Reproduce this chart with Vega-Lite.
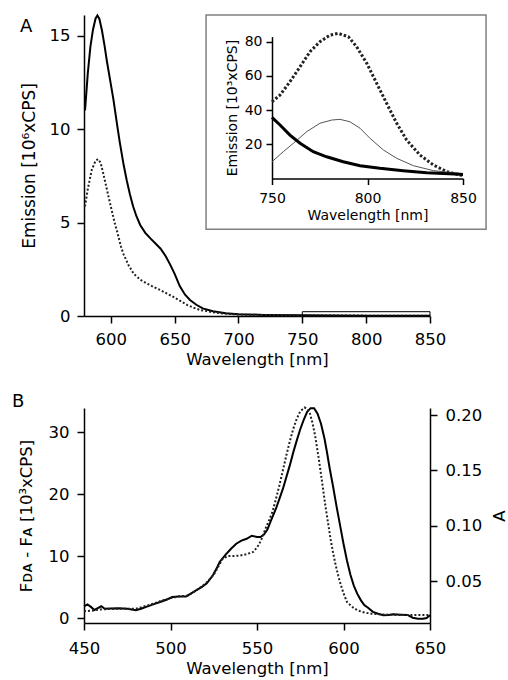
{
  "$schema": "https://vega.github.io/schema/vega-lite/v6.json",
  "background": "white",
  "padding": {"left": 12, "top": 11, "right": 2, "bottom": 0},
  "bounds": "flush",
  "spacing": 92,
  "config": {
    "font": "DejaVu Sans",
    "view": {"stroke": null},
    "axis": {
      "domainColor": "black", "domainWidth": 1.5, "tickColor": "black", "tickWidth": 1.5, "tickSize": 7,
      "labelColor": "black", "titleColor": "black", "labelFontSize": 16.5, "titleFontSize": 16.5,
      "titleFontWeight": "normal", "grid": false, "labelFlush": false, "labelOverlap": false
    },
    "title": {"fontSize": 18, "fontWeight": "normal", "anchor": "start", "frame": "group", "color": "black"}
  },
  "datasets": {
    "sA": [
      {"wl": 579.8, "v": 11.0}, {"wl": 582, "v": 13.0}, {"wl": 584, "v": 14.4}, {"wl": 586, "v": 15.3},
      {"wl": 588, "v": 15.9}, {"wl": 589.5, "v": 16.07}, {"wl": 591, "v": 15.9}, {"wl": 593, "v": 15.3},
      {"wl": 595, "v": 14.5}, {"wl": 597, "v": 13.6}, {"wl": 600, "v": 12.4}, {"wl": 602, "v": 11.6},
      {"wl": 605, "v": 10.2}, {"wl": 607, "v": 9.3}, {"wl": 610, "v": 8.1}, {"wl": 612.5, "v": 7.25},
      {"wl": 615, "v": 6.5}, {"wl": 617.5, "v": 5.86}, {"wl": 620, "v": 5.35}, {"wl": 623, "v": 4.87},
      {"wl": 627, "v": 4.45}, {"wl": 631, "v": 4.15}, {"wl": 635, "v": 3.88}, {"wl": 639, "v": 3.6},
      {"wl": 643, "v": 3.2}, {"wl": 646.5, "v": 2.75}, {"wl": 650, "v": 2.25}, {"wl": 654, "v": 1.6},
      {"wl": 658, "v": 1.15}, {"wl": 662, "v": 0.86}, {"wl": 667, "v": 0.6}, {"wl": 672, "v": 0.41},
      {"wl": 680, "v": 0.25}, {"wl": 690, "v": 0.15}, {"wl": 700, "v": 0.1}, {"wl": 720, "v": 0.06},
      {"wl": 750, "v": 0.04}, {"wl": 800, "v": 0.02}, {"wl": 850, "v": 0.01}
    ],
    "dA": [
      {"wl": 579.8, "v": 5.86}, {"wl": 582, "v": 6.8}, {"wl": 585, "v": 7.8}, {"wl": 588, "v": 8.3},
      {"wl": 590, "v": 8.39}, {"wl": 592, "v": 8.2}, {"wl": 594, "v": 7.65}, {"wl": 597, "v": 6.75},
      {"wl": 600, "v": 5.85}, {"wl": 603, "v": 5.0}, {"wl": 605, "v": 4.5}, {"wl": 608, "v": 3.7},
      {"wl": 610, "v": 3.3}, {"wl": 614, "v": 2.7}, {"wl": 618, "v": 2.25}, {"wl": 623, "v": 1.95},
      {"wl": 628, "v": 1.75}, {"wl": 633, "v": 1.57}, {"wl": 639, "v": 1.38}, {"wl": 644, "v": 1.2},
      {"wl": 649, "v": 1.02}, {"wl": 654, "v": 0.82}, {"wl": 660, "v": 0.58}, {"wl": 665, "v": 0.44},
      {"wl": 670, "v": 0.32}, {"wl": 680, "v": 0.2}, {"wl": 690, "v": 0.12}, {"wl": 700, "v": 0.08},
      {"wl": 720, "v": 0.05}, {"wl": 750, "v": 0.03}, {"wl": 800, "v": 0.02}, {"wl": 850, "v": 0.01}
    ],
    "iDot": [
      {"wl": 750, "v": 44.9}, {"wl": 754.2, "v": 48.8}, {"wl": 759.4, "v": 56.6}, {"wl": 764.7, "v": 65.4},
      {"wl": 769.9, "v": 74.2}, {"wl": 775.1, "v": 80.0}, {"wl": 780.4, "v": 83.9}, {"wl": 784.7, "v": 84.9},
      {"wl": 790, "v": 82.9}, {"wl": 794.3, "v": 77.1}, {"wl": 799.6, "v": 67.4}, {"wl": 804.8, "v": 55.7},
      {"wl": 810, "v": 44.0}, {"wl": 815.3, "v": 32.3}, {"wl": 820.5, "v": 22.5}, {"wl": 827.5, "v": 13.7},
      {"wl": 834.5, "v": 7.9}, {"wl": 841.5, "v": 4.0}, {"wl": 848.4, "v": 2.0}, {"wl": 850, "v": 1.8}
    ],
    "iThin": [
      {"wl": 750, "v": 9.8}, {"wl": 755.9, "v": 15.7}, {"wl": 761.2, "v": 20.6}, {"wl": 768.2, "v": 27.4},
      {"wl": 775.1, "v": 32.3}, {"wl": 781.3, "v": 34.2}, {"wl": 785.6, "v": 34.6}, {"wl": 790.8, "v": 33.2},
      {"wl": 796.1, "v": 29.4}, {"wl": 801.3, "v": 23.5}, {"wl": 808.3, "v": 16.7}, {"wl": 815.3, "v": 11.8},
      {"wl": 824, "v": 7.5}, {"wl": 834.5, "v": 4.6}, {"wl": 848.4, "v": 3.0}, {"wl": 850, "v": 2.9}
    ],
    "iThick": [
      {"wl": 750, "v": 35.8}, {"wl": 754.2, "v": 31.3}, {"wl": 759.4, "v": 25.4}, {"wl": 764.7, "v": 20.6},
      {"wl": 771.6, "v": 15.7}, {"wl": 778.6, "v": 12.7}, {"wl": 787.3, "v": 9.8}, {"wl": 796.1, "v": 7.5},
      {"wl": 806.5, "v": 6.0}, {"wl": 818.7, "v": 4.6}, {"wl": 831, "v": 3.4}, {"wl": 848.4, "v": 2.5},
      {"wl": 850, "v": 2.4}
    ],
    "sB": [
      {"wl": 450, "v": 1.9}, {"wl": 452, "v": 2.2}, {"wl": 454, "v": 1.8}, {"wl": 456, "v": 1.3},
      {"wl": 458, "v": 1.6}, {"wl": 460, "v": 1.9}, {"wl": 462, "v": 1.5}, {"wl": 465, "v": 1.55},
      {"wl": 470, "v": 1.6}, {"wl": 475, "v": 1.5}, {"wl": 480, "v": 1.25}, {"wl": 483, "v": 1.5},
      {"wl": 486, "v": 1.8}, {"wl": 490, "v": 2.2}, {"wl": 494, "v": 2.6}, {"wl": 498, "v": 3.0},
      {"wl": 501, "v": 3.4}, {"wl": 505, "v": 3.5}, {"wl": 509, "v": 3.5}, {"wl": 512, "v": 4.0},
      {"wl": 515, "v": 4.5}, {"wl": 518, "v": 5.0}, {"wl": 521, "v": 5.6}, {"wl": 524.5, "v": 6.9},
      {"wl": 527, "v": 8.2}, {"wl": 528.5, "v": 9.1}, {"wl": 532, "v": 10.3}, {"wl": 535, "v": 11.2},
      {"wl": 538, "v": 12.0}, {"wl": 541, "v": 12.5}, {"wl": 544, "v": 12.8}, {"wl": 547, "v": 13.3},
      {"wl": 550, "v": 13.1}, {"wl": 552, "v": 13.1}, {"wl": 554, "v": 13.5}, {"wl": 556, "v": 14.3},
      {"wl": 558, "v": 15.7}, {"wl": 561, "v": 17.7}, {"wl": 563, "v": 19.3}, {"wl": 565, "v": 20.9},
      {"wl": 567, "v": 22.8}, {"wl": 569, "v": 24.7}, {"wl": 571, "v": 26.8}, {"wl": 573, "v": 28.7},
      {"wl": 575, "v": 30.5}, {"wl": 577, "v": 32.0}, {"wl": 579, "v": 33.3}, {"wl": 581, "v": 33.9},
      {"wl": 583, "v": 33.9}, {"wl": 585, "v": 33.0}, {"wl": 587, "v": 31.4}, {"wl": 589, "v": 29.0},
      {"wl": 590.5, "v": 26.7}, {"wl": 592, "v": 24.2}, {"wl": 594, "v": 21.2}, {"wl": 596, "v": 18.0},
      {"wl": 598, "v": 15.0}, {"wl": 600, "v": 12.0}, {"wl": 602, "v": 9.3}, {"wl": 604, "v": 7.0},
      {"wl": 606, "v": 5.2}, {"wl": 608, "v": 3.9}, {"wl": 610, "v": 2.9}, {"wl": 612, "v": 2.1},
      {"wl": 614, "v": 1.7}, {"wl": 617, "v": 1.0}, {"wl": 620, "v": 0.7}, {"wl": 623, "v": 0.45},
      {"wl": 626, "v": 0.5}, {"wl": 629, "v": 0.6}, {"wl": 633, "v": 0.55}, {"wl": 637, "v": 0.5},
      {"wl": 640, "v": 0.05}, {"wl": 643, "v": -0.1}, {"wl": 646, "v": -0.1}, {"wl": 648, "v": 0.0},
      {"wl": 650, "v": 0.45}
    ],
    "dB": [
      {"wl": 450, "a": 0.0229}, {"wl": 455, "a": 0.0235}, {"wl": 460, "a": 0.0246}, {"wl": 470, "a": 0.0252},
      {"wl": 480, "a": 0.0252}, {"wl": 485, "a": 0.0274}, {"wl": 490, "a": 0.0297}, {"wl": 497, "a": 0.0336},
      {"wl": 505, "a": 0.0364}, {"wl": 510, "a": 0.0369}, {"wl": 515, "a": 0.0419}, {"wl": 520, "a": 0.0475},
      {"wl": 525, "a": 0.0559}, {"wl": 530, "a": 0.0699}, {"wl": 533, "a": 0.0727}, {"wl": 536, "a": 0.0727},
      {"wl": 540, "a": 0.0732}, {"wl": 544, "a": 0.0744}, {"wl": 548, "a": 0.0766}, {"wl": 551, "a": 0.0827},
      {"wl": 553, "a": 0.0894}, {"wl": 555, "a": 0.0978}, {"wl": 557, "a": 0.1051}, {"wl": 559, "a": 0.1129},
      {"wl": 561, "a": 0.1246}, {"wl": 563, "a": 0.1369}, {"wl": 565, "a": 0.1504}, {"wl": 567, "a": 0.1638},
      {"wl": 569, "a": 0.1766}, {"wl": 571, "a": 0.1878}, {"wl": 573, "a": 0.1967}, {"wl": 575, "a": 0.2034},
      {"wl": 577.5, "a": 0.2068}, {"wl": 579, "a": 0.2057}, {"wl": 580.5, "a": 0.2018}, {"wl": 582, "a": 0.1934},
      {"wl": 583.5, "a": 0.1822}, {"wl": 585, "a": 0.1677}, {"wl": 586.5, "a": 0.152}, {"wl": 588, "a": 0.1353},
      {"wl": 589.5, "a": 0.1185}, {"wl": 591, "a": 0.1034}, {"wl": 592.5, "a": 0.0883}, {"wl": 594, "a": 0.0755},
      {"wl": 595.5, "a": 0.0643}, {"wl": 597, "a": 0.0548}, {"wl": 598.5, "a": 0.0464}, {"wl": 600, "a": 0.0392},
      {"wl": 602, "a": 0.0313}, {"wl": 605, "a": 0.0269}, {"wl": 608, "a": 0.0238}, {"wl": 612, "a": 0.0218},
      {"wl": 616, "a": 0.0207}, {"wl": 620, "a": 0.0202}, {"wl": 630, "a": 0.0196}, {"wl": 640, "a": 0.0196},
      {"wl": 650, "a": 0.0196}
    ],
    "smallBox": [{"x1": 750, "x2": 850, "y1": 0, "y2": 0.23}],
    "frame": [{"x1": 674.6, "x2": 893.9, "y1": 4.64, "y2": 16.1}]
  },
  "vconcat": [
    {
      "width": 346,
      "height": 301,
      "title": {"text": "A", "dx": -64, "dy": 38, "offset": 0, "baseline": "alphabetic"},
      "layer": [
        {
          "layer": [
            {
              "data": {"name": "sA"},
              "mark": {"type": "line", "color": "black", "strokeWidth": 2},
              "encoding": {
                "x": {"field": "wl", "type": "quantitative", "scale": {"domain": [579, 850], "nice": false, "zero": false},
                  "axis": {"values": [600, 650, 700, 750, 800, 850], "title": "Wavelength [nm]", "labelPadding": 8, "titlePadding": 4}},
                "y": {"field": "v", "type": "quantitative", "scale": {"domain": [0, 16.1], "nice": false},
                  "axis": {"values": [0, 5, 10, 15], "title": "Emission [10⁶xCPS]", "labelPadding": 7, "titlePadding": 11, "titleFontSize": 17}}
              }
            },
            {
              "data": {"name": "dA"},
              "mark": {"type": "line", "color": "#222", "strokeWidth": 2, "strokeDash": [2, 2]},
              "encoding": {
                "x": {"field": "wl", "type": "quantitative"},
                "y": {"field": "v", "type": "quantitative"}
              }
            },
            {
              "data": {"name": "smallBox"},
              "mark": {"type": "rect", "fill": null, "stroke": "black", "strokeWidth": 1},
              "encoding": {
                "x": {"field": "x1", "type": "quantitative"}, "x2": {"field": "x2"},
                "y": {"field": "y1", "type": "quantitative"}, "y2": {"field": "y2"}
              }
            },
            {
              "data": {"name": "frame"},
              "mark": {"type": "rect", "fill": null, "stroke": "#808080", "strokeWidth": 1.5},
              "encoding": {
                "x": {"field": "x1", "type": "quantitative"}, "x2": {"field": "x2"},
                "y": {"field": "y1", "type": "quantitative"}, "y2": {"field": "y2"}
              }
            }
          ]
        },
        {
          "encoding": {
            "x": {"field": "wl", "type": "quantitative",
              "scale": {"domain": [750, 850], "nice": false, "zero": false, "range": [188, 379]},
              "axis": {"orient": "bottom", "offset": -137.5, "values": [750, 800, 850], "title": "Wavelength [nm]",
                "labelFontSize": 14, "titleFontSize": 14, "tickSize": 6, "labelPadding": 7, "titlePadding": 3}},
            "y": {"field": "v", "type": "quantitative",
              "scale": {"domain": [0, 83], "nice": false, "range": [163.5, 21.6]},
              "axis": {"orient": "left", "offset": -188, "values": [20, 40, 60, 80], "title": "Emission [10³xCPS]",
                "labelFontSize": 14, "titleFontSize": 14, "tickSize": 6, "labelPadding": 4, "titlePadding": 5}}
          },
          "layer": [
            {"data": {"name": "iDot"}, "mark": {"type": "line", "color": "#222", "strokeWidth": 3, "strokeDash": [2.5, 2]}},
            {"data": {"name": "iThin"}, "mark": {"type": "line", "color": "#555", "strokeWidth": 1}},
            {"data": {"name": "iThick"}, "mark": {"type": "line", "color": "black", "strokeWidth": 3}}
          ]
        }
      ],
      "resolve": {"scale": {"x": "independent", "y": "independent"}, "axis": {"x": "independent", "y": "independent"}}
    },
    {
      "width": 346,
      "height": 215,
      "title": {"text": "B", "dx": -72, "dy": 21, "offset": 0, "baseline": "alphabetic"},
      "layer": [
        {
          "data": {"name": "sB"},
          "mark": {"type": "line", "color": "black", "strokeWidth": 2},
          "encoding": {
            "x": {"field": "wl", "type": "quantitative", "scale": {"domain": [450, 650], "nice": false, "zero": false},
              "axis": {"values": [450, 500, 550, 600, 650], "title": "Wavelength [nm]", "labelPadding": 10, "titlePadding": 4}},
            "y": {"field": "v", "type": "quantitative", "scale": {"domain": [-0.8, 33.93], "nice": false, "zero": false},
              "axis": {"orient": "left", "values": [0, 10, 20, 30], "title": "Fᴅᴀ - Fᴀ [10³xCPS]", "labelPadding": 8, "titlePadding": 14}}
          }
        },
        {
          "data": {"name": "dB"},
          "mark": {"type": "line", "color": "#222", "strokeWidth": 2, "strokeDash": [2, 2]},
          "encoding": {
            "x": {"field": "wl", "type": "quantitative"},
            "y": {"field": "a", "type": "quantitative", "scale": {"domain": [0.0123, 0.2064], "nice": false, "zero": false},
              "axis": {"orient": "right", "values": [0.05, 0.1, 0.15, 0.2], "format": ".2f", "title": "A", "titleAngle": 270,
                "titleBaseline": "top", "labelPadding": 8, "titlePadding": 10}}
          }
        }
      ],
      "resolve": {"scale": {"y": "independent"}}
    }
  ]
}
